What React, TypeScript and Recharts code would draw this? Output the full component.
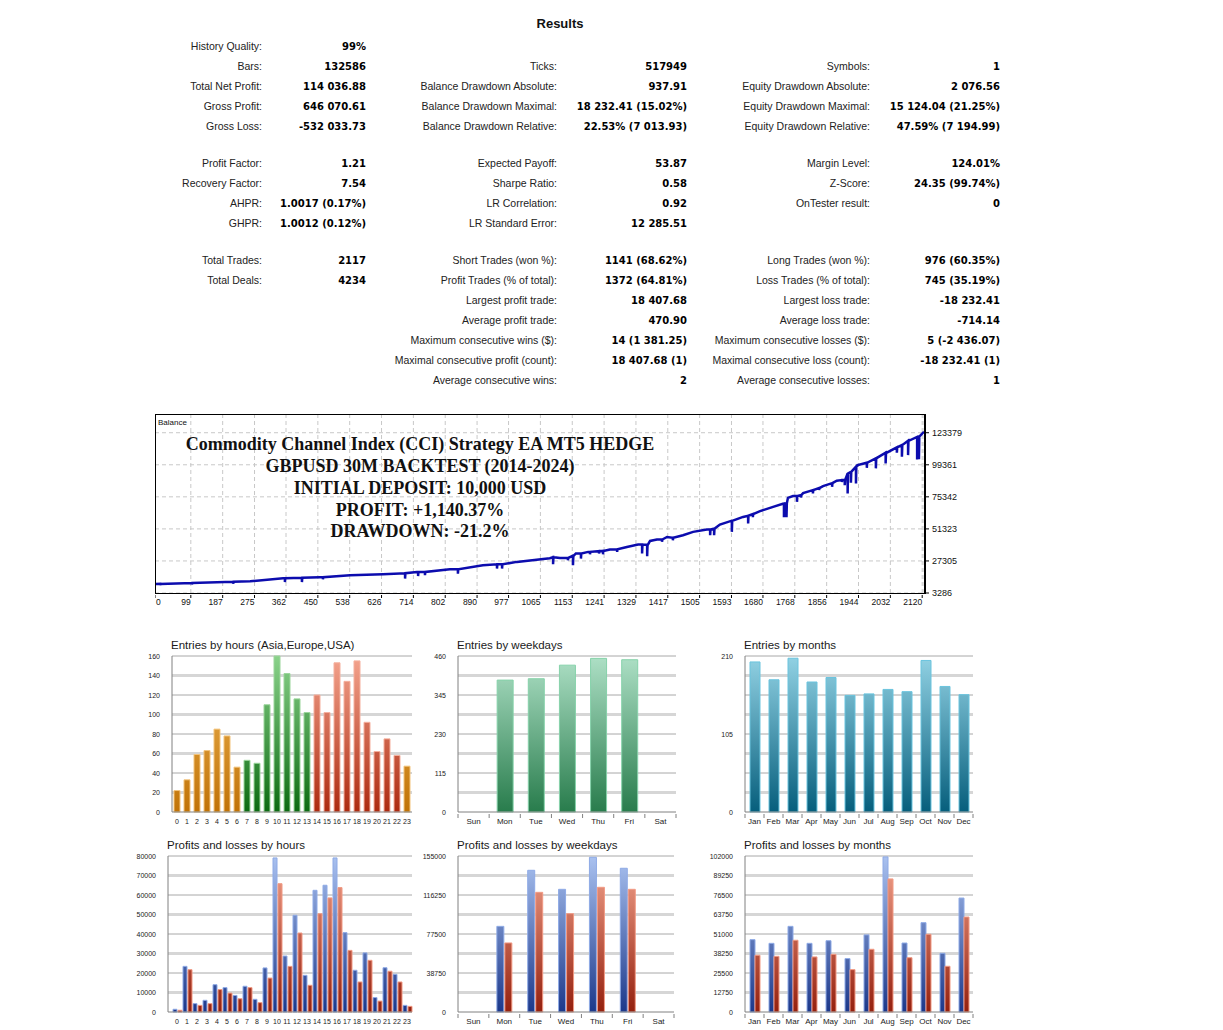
import React from "react";
import { LineChart, Line, XAxis, YAxis, CartesianGrid, BarChart, Bar, Cell } from "recharts";

const FONT = "'Liberation Sans', Arial, sans-serif";
const BOLD_FONT = "'DejaVu Sans', Verdana, sans-serif";

// results table: y, then label/value pairs for the three columns
const resultRows: [number, string, string, string, string, string, string][] = [
  [46, "History Quality:", "99%", "", "", "", ""],
  [66, "Bars:", "132586", "Ticks:", "517949", "Symbols:", "1"],
  [86, "Total Net Profit:", "114 036.88", "Balance Drawdown Absolute:", "937.91", "Equity Drawdown Absolute:", "2 076.56"],
  [106, "Gross Profit:", "646 070.61", "Balance Drawdown Maximal:", "18 232.41 (15.02%)", "Equity Drawdown Maximal:", "15 124.04 (21.25%)"],
  [126, "Gross Loss:", "-532 033.73", "Balance Drawdown Relative:", "22.53% (7 013.93)", "Equity Drawdown Relative:", "47.59% (7 194.99)"],
  [163, "Profit Factor:", "1.21", "Expected Payoff:", "53.87", "Margin Level:", "124.01%"],
  [183, "Recovery Factor:", "7.54", "Sharpe Ratio:", "0.58", "Z-Score:", "24.35 (99.74%)"],
  [203, "AHPR:", "1.0017 (0.17%)", "LR Correlation:", "0.92", "OnTester result:", "0"],
  [223, "GHPR:", "1.0012 (0.12%)", "LR Standard Error:", "12 285.51", "", ""],
  [260, "Total Trades:", "2117", "Short Trades (won %):", "1141 (68.62%)", "Long Trades (won %):", "976 (60.35%)"],
  [280, "Total Deals:", "4234", "Profit Trades (% of total):", "1372 (64.81%)", "Loss Trades (% of total):", "745 (35.19%)"],
  [300, "", "", "Largest profit trade:", "18 407.68", "Largest loss trade:", "-18 232.41"],
  [320, "", "", "Average profit trade:", "470.90", "Average loss trade:", "-714.14"],
  [340, "", "", "Maximum consecutive wins ($):", "14 (1 381.25)", "Maximum consecutive losses ($):", "5 (-2 436.07)"],
  [360, "", "", "Maximal consecutive profit (count):", "18 407.68 (1)", "Maximal consecutive loss (count):", "-18 232.41 (1)"],
  [380, "", "", "Average consecutive wins:", "2", "Average consecutive losses:", "1"],
];
const colRight = [262, 366, 557, 687, 870, 1000];

const titleLines = [
  "Commodity Channel Index (CCI) Strategy EA MT5 HEDGE",
  "GBPUSD 30M BACKTEST (2014-2024)",
  "INITIAL DEPOSIT: 10,000 USD",
  "PROFIT: +1,140.37%",
  "DRAWDOWN: -21.2%",
];

// balance curve: [trade, balance]
const balanceLine: [number, number][] = [
  [0, 10000], [124, 10900], [263, 12100], [354, 14300], [456, 15100], [539, 16600], [630, 17300],
  [724, 19100], [815, 21100], [906, 24100], [1000, 26600], [1091, 29300], [1119, 29600], [1155, 31200],
  [1163, 32900], [1197, 34100], [1257, 35900], [1304, 37800], [1335, 39600], [1362, 39500], [1368, 42300],
  [1387, 43400], [1415, 45300], [1459, 46600], [1487, 49100], [1525, 50900], [1561, 54600], [1592, 57300],
  [1625, 60300], [1672, 64600], [1708, 67800], [1735, 70200], [1749, 74600], [1763, 75900], [1791, 78100],
  [1818, 80400], [1846, 83400], [1871, 85600], [1884, 87400], [1906, 87900], [1914, 92900], [1923, 94100],
  [1942, 99100], [1967, 100900], [1992, 104200], [2019, 108400], [2050, 112400], [2081, 117400],
  [2107, 120400], [2125, 124037],
];
// drawdown spikes: [trade, balance before, lowest balance]
const balanceDips: [number, number, number][] = [
  [14, 10100, 9100], [102, 10800, 9600], [216, 11700, 10300], [359, 14300, 11500], [406, 14700, 11500],
  [464, 15100, 13600], [691, 18100, 14100], [727, 19100, 16000], [746, 19100, 16600], [837, 21100, 17800],
  [945, 24800, 21600], [959, 24800, 21600], [1100, 30100, 24800], [1141, 29600, 27800], [1155, 31000, 24100],
  [1177, 32900, 29100], [1202, 34100, 32300], [1227, 34600, 32900], [1238, 34800, 32300], [1277, 36100, 34100],
  [1346, 39600, 32900], [1360, 39500, 30800], [1401, 43400, 41600], [1431, 44700, 42800], [1534, 50900, 46600],
  [1545, 51500, 46600], [1594, 57300, 49100], [1639, 61200, 55400], [1652, 62400, 60100], [1738, 70300, 60100],
  [1745, 70500, 60100], [1774, 75900, 71600], [1785, 76600, 74900], [1818, 80400, 77900], [1835, 81900, 80400],
  [1871, 85600, 82900], [1898, 87900, 86400], [1906, 87900, 84100], [1914, 92900, 77900], [1923, 94100, 85900],
  [1937, 97900, 85400], [1967, 100900, 97100], [1992, 104200, 96700], [2019, 108100, 100400],
  [2050, 112400, 108400], [2064, 114100, 105400], [2081, 117200, 106600], [2106, 120200, 103400],
  [2111, 120500, 103600],
];
const balanceXTicks = [0, 99, 187, 275, 362, 450, 538, 626, 714, 802, 890, 977, 1065, 1153, 1241, 1329, 1417, 1505, 1593, 1680, 1768, 1856, 1944, 2032, 2120];
const balanceYTicks = [3286, 27305, 51323, 75342, 99361, 123379];

const hours = ["0", "1", "2", "3", "4", "5", "6", "7", "8", "9", "10", "11", "12", "13", "14", "15", "16", "17", "18", "19", "20", "21", "22", "23"];
const hourSessions = ["asia", "asia", "asia", "asia", "asia", "asia", "asia", "europe", "europe", "europe", "europe", "europe", "europe", "europe", "usa", "usa", "usa", "usa", "usa", "usa", "usa", "usa", "usa", "asia"];
const hourEntries = [22, 33, 59, 63, 85, 78, 46, 53, 50, 110, 160, 142, 116, 102, 120, 102, 153, 134, 155, 92, 62, 75, 58, 47];
const hourProfits = [1400, 23400, 4300, 6000, 14000, 12500, 8500, 13200, 6500, 22600, 79000, 28700, 49600, 18800, 62400, 65000, 79000, 40700, 21400, 30300, 7400, 22700, 19300, 3400];
const hourLosses = [900, 21700, 3400, 4300, 11500, 9700, 6800, 12500, 4800, 17400, 65800, 23400, 40500, 13700, 50400, 58500, 63800, 31600, 15400, 26500, 5600, 20900, 15400, 2900];

const weekdays = ["Sun", "Mon", "Tue", "Wed", "Thu", "Fri", "Sat"];
const weekdayEntries = [null, 389, 393, 433, 453, 449, null];
const weekdayProfits = [null, 85100, 140800, 121900, 153700, 142800, null];
const weekdayLosses = [null, 68600, 118900, 97700, 123900, 121900, null];

const months = ["Jan", "Feb", "Mar", "Apr", "May", "Jun", "Jul", "Aug", "Sep", "Oct", "Nov", "Dec"];
const monthEntries = [202, 178, 207, 175, 181, 157, 159, 165, 162, 204, 169, 158];
const monthProfits = [47300, 44900, 56000, 44900, 46600, 34900, 50400, 101400, 45100, 58400, 38400, 74500];
const monthLosses = [37100, 36400, 46900, 36000, 37700, 27700, 41000, 87000, 35500, 50800, 29900, 62100];

const balanceData = [
  ...balanceLine.map(([t, v]) => ({ t, v })),
  ...balanceDips.flatMap(([t, b, l]) => [{ t, v: b }, { t, v: l }, { t: t + 1, v: b }]),
].sort((a, b) => a.t - b.t);

const sessionStyle: Record<string, { fill: string; stroke: string }> = {
  asia: { fill: "url(#gOrange)", stroke: "#f3c47c" },
  europe: { fill: "url(#gGreen)", stroke: "#9cd69c" },
  usa: { fill: "url(#gRed)", stroke: "#f5b09e" },
};

const gradients: [string, string, string][] = [
  ["gOrange", "#f2ba5c", "#c07206"],
  ["gGreen", "#8ad28a", "#0c6a12"],
  ["gRed", "#f4a48e", "#ac2a10"],
  ["gMint", "#aee0c6", "#287c4c"],
  ["gTeal", "#92d2e4", "#065e7c"],
  ["gBlue", "#aac2f0", "#1c388a"],
  ["gLoss", "#f4a690", "#94200e"],
];

interface SeriesDef {
  key: string;
  fill: string;
  stroke: string;
  cells?: { fill: string; stroke: string }[];
}
interface SmallChartProps {
  title: string;
  left: number;
  top: number;
  plotW: number;
  data: Record<string, string | number | null>[];
  yMax: number;
  yTicks: number[];
  series: SeriesDef[];
  barSize: number;
  barGap?: number;
  xFont: number;
  boundary: boolean;
  padLeft?: number;
}

function SmallChart({ title, left, top, plotW, data, yMax, yTicks, series, barSize, barGap = 0, xFont, boundary, padLeft = 0 }: SmallChartProps) {
  const thin = [8, 6, 4, 2].map((i) => (yMax * i) / 8);
  const thick = [7, 5, 3, 1].map((i) => (yMax * i) / 8);
  const slot = (plotW - padLeft) / data.length;
  const xTick = (p: any) => (
    <g>
      {boundary && <line x1={p.x - slot / 2} x2={p.x - slot / 2} y1={p.y} y2={p.y + 4} stroke="#808080" />}
      {boundary && p.index === data.length - 1 && (
        <line x1={p.x + slot / 2} x2={p.x + slot / 2} y1={p.y} y2={p.y + 4} stroke="#808080" />
      )}
      <text x={p.x} y={p.y + 9.5} textAnchor="middle" fontSize={xFont} fontFamily={FONT} fill="#222">
        {p.payload.value}
      </text>
    </g>
  );
  const yTick = (p: any) => (
    <text x={p.x - 10} y={p.y + 2.5} textAnchor="end" fontSize={7} fontFamily={FONT} fill="#222">
      {p.payload.value}
    </text>
  );
  return (
    <>
      <div style={{ position: "absolute", left: left - 1, top: top - 18, fontFamily: FONT, fontSize: 11.5, lineHeight: "14px", color: "#1a1a1a", whiteSpace: "nowrap" }}>
        {title}
      </div>
      <div style={{ position: "absolute", left: left - 40, top: top - 6 }}>
        <BarChart width={40 + plotW + 8} height={182} data={data} margin={{ top: 6, right: 8, left: 0, bottom: 0 }} barGap={barGap}>
          <CartesianGrid vertical={false} horizontalValues={thick} stroke="#d6d6d6" strokeWidth={3} />
          <CartesianGrid vertical={false} horizontalValues={thin} stroke="#a8a8a8" strokeWidth={1} />
          <XAxis dataKey="name" interval={0} tickLine={false} tickSize={0} axisLine={{ stroke: "#808080" }} tick={xTick} height={20} padding={{ left: padLeft, right: 0 }} />
          <YAxis type="number" domain={[0, yMax]} ticks={yTicks} interval={0} tickLine={false} tickSize={0} axisLine={{ stroke: "#808080" }} tick={yTick} width={40} />
          {series.map((s) => (
            <Bar key={s.key} dataKey={s.key} barSize={barSize} fill={s.fill} stroke={s.stroke} strokeWidth={1} isAnimationActive={false}>
              {s.cells && s.cells.map((c, i) => <Cell key={i} fill={c.fill} stroke={c.stroke} />)}
            </Bar>
          ))}
        </BarChart>
      </div>
    </>
  );
}

const balanceXTick = (p: any) => (
  <g>
    <line x1={p.x} x2={p.x} y1={p.y} y2={p.y + 3} stroke="#000" />
    <text x={p.index === 0 ? p.x + 1 : p.x} y={p.y + 10} textAnchor={p.index === 0 ? "start" : "end"} fontSize={8.5} fontFamily={FONT} fill="#111">
      {p.payload.value}
    </text>
  </g>
);
const balanceYTick = (p: any) => (
  <g>
    <line x1={p.x} x2={p.x + 3} y1={p.y} y2={p.y} stroke="#000" />
    <text x={p.x + 6} y={p.y + 3} fontSize={9} fontFamily={FONT} fill="#111">
      {p.payload.value}
    </text>
  </g>
);

export default function App() {
  const hoursData = hours.map((name, i) => ({ name, entries: hourEntries[i], profit: hourProfits[i], loss: hourLosses[i] }));
  const weekdayData = weekdays.map((name, i) => ({ name, entries: weekdayEntries[i], profit: weekdayProfits[i], loss: weekdayLosses[i] }));
  const monthData = months.map((name, i) => ({ name, entries: monthEntries[i], profit: monthProfits[i], loss: monthLosses[i] }));
  const blue = { key: "profit", fill: "url(#gBlue)", stroke: "#8eaae6" };
  const red = { key: "loss", fill: "url(#gLoss)", stroke: "#f29a84" };

  return (
    <div style={{ position: "absolute", left: 0, top: 0, width: 1223, height: 1030, background: "#fff", fontFamily: FONT, overflow: "hidden" }}>
      <svg width={0} height={0} style={{ position: "absolute" }}>
        <defs>
          {gradients.map(([id, a, b]) => (
            <linearGradient key={id} id={id} gradientUnits="userSpaceOnUse" x1={0} y1={6} x2={0} y2={162}>
              <stop offset="0%" stopColor={a} />
              <stop offset="100%" stopColor={b} />
            </linearGradient>
          ))}
        </defs>
      </svg>

      <div style={{ position: "absolute", left: 460, width: 200, top: 16, textAlign: "center", fontWeight: "bold", fontSize: 13, lineHeight: "16px", color: "#111" }}>
        Results
      </div>
      {resultRows.map((r) =>
        [1, 2, 3, 4, 5, 6].map((c) =>
          r[c] ? (
            <div
              key={`${r[0]}-${c}`}
              style={{
                position: "absolute",
                left: colRight[c - 1] - 300,
                width: 300,
                top: r[0] - 7 + (c % 2 === 0 ? 1 : 0),
                textAlign: "right",
                fontFamily: c % 2 === 0 ? BOLD_FONT : FONT,
                fontSize: c % 2 === 0 ? 10 : 10.5,
                lineHeight: "14px",
                fontWeight: c % 2 === 0 ? "bold" : "normal",
                color: c % 2 === 0 ? "#000" : "#222",
                whiteSpace: "nowrap",
              }}
            >
              {r[c]}
            </div>
          ) : null
        )
      )}

      <div style={{ position: "absolute", left: 155, top: 414 }}>
        <LineChart width={830} height={199} data={balanceData} margin={{ top: 0, right: 0, left: 0, bottom: 0 }}>
          <CartesianGrid stroke="#c8c8c8" strokeDasharray="4 3" />
          <XAxis type="number" dataKey="t" domain={[0, 2125]} ticks={balanceXTicks} interval={0} axisLine={false} tickLine={false} tickSize={0} tick={balanceXTick} height={20} allowDataOverflow />
          <YAxis type="number" orientation="right" domain={[3286, 137415]} ticks={balanceYTicks} interval={0} axisLine={false} tickLine={false} tickSize={0} tick={balanceYTick} width={61} allowDataOverflow />
          <Line type="linear" dataKey="v" stroke="#0c0cae" strokeWidth={2.5} dot={false} isAnimationActive={false} />
        </LineChart>
      </div>
      <div style={{ position: "absolute", left: 155, top: 414, width: 771, height: 180, boxSizing: "border-box", borderTop: "1px solid #000", borderLeft: "1px solid #000", borderBottom: "1px solid #000", borderRight: "2px solid #000", pointerEvents: "none" }} />
      <div style={{ position: "absolute", left: 158, top: 418, fontSize: 8, lineHeight: "10px", color: "#111" }}>Balance</div>
      {titleLines.map((t, i) => (
        <div key={t} style={{ position: "absolute", left: 170, width: 500, top: [444, 466, 488, 510, 531][i] - 11, textAlign: "center", fontFamily: "'Liberation Serif', 'Times New Roman', serif", fontWeight: "bold", fontSize: 18, lineHeight: "22px", color: "#111", whiteSpace: "nowrap" }}>
          {t}
        </div>
      ))}

      <SmallChart
        title="Entries by hours (Asia,Europe,USA)"
        left={172}
        top={656}
        plotW={240}
        data={hoursData}
        yMax={160}
        yTicks={[0, 20, 40, 60, 80, 100, 120, 140, 160]}
        series={[{ key: "entries", fill: "url(#gOrange)", stroke: "#f3c47c", cells: hourSessions.map((s) => sessionStyle[s]) }]}
        barSize={6}
        xFont={7}
        boundary={false}
      />
      <SmallChart
        title="Entries by weekdays"
        left={458}
        top={656}
        plotW={218}
        data={weekdayData}
        yMax={460}
        yTicks={[0, 115, 230, 345, 460]}
        series={[{ key: "entries", fill: "url(#gMint)", stroke: "#86d2aa" }]}
        barSize={16}
        xFont={8}
        boundary
      />
      <SmallChart
        title="Entries by months"
        left={745}
        top={656}
        plotW={228}
        data={monthData}
        yMax={210}
        yTicks={[0, 105, 210]}
        series={[{ key: "entries", fill: "url(#gTeal)", stroke: "#6ac4de" }]}
        barSize={10}
        xFont={8}
        boundary
      />
      <SmallChart
        title="Profits and losses by hours"
        left={168}
        top={856}
        plotW={244}
        padLeft={4}
        data={hoursData}
        yMax={80000}
        yTicks={[0, 10000, 20000, 30000, 40000, 50000, 60000, 70000, 80000]}
        series={[blue, red]}
        barSize={4}
        barGap={1}
        xFont={7}
        boundary={false}
      />
      <SmallChart
        title="Profits and losses by weekdays"
        left={458}
        top={856}
        plotW={216}
        data={weekdayData}
        yMax={155000}
        yTicks={[0, 38750, 77500, 116250, 155000]}
        series={[blue, red]}
        barSize={7}
        barGap={1}
        xFont={8}
        boundary
      />
      <SmallChart
        title="Profits and losses by months"
        left={745}
        top={856}
        plotW={228}
        data={monthData}
        yMax={102000}
        yTicks={[0, 12750, 25500, 38250, 51000, 63750, 76500, 89250, 102000]}
        series={[blue, red]}
        barSize={5}
        barGap={0}
        xFont={8}
        boundary
      />
    </div>
  );
}
